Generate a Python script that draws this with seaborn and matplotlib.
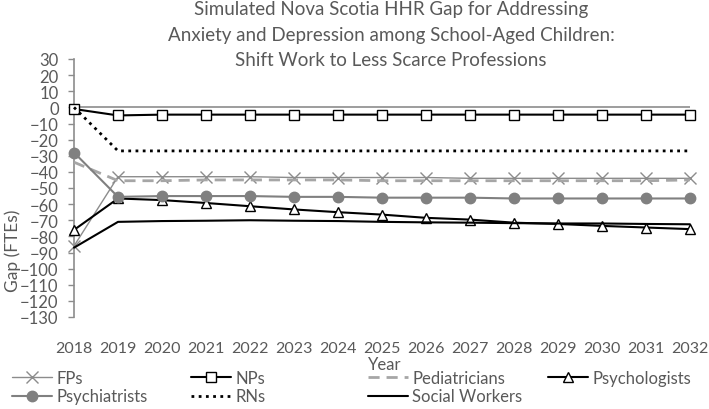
import pandas as pd
import matplotlib.pyplot as plt
import seaborn as sns

# Data
years = list(range(2018, 2033))
fps = [-86, -43, -43, -43, -43, -43.5, -43.5, -43.5, -43.5, -44, -44, -44, -44, -44, -44]
nps = [-1, -5, -4.5, -4.5, -4.5, -4.5, -4.5, -4.5, -4.5, -4.5, -4.5, -4.5, -4.5, -4.5, -4.5]
pediatricians = [-34, -45.5, -45.5, -45, -45, -45, -45, -45.5, -45.5, -45.5, -45.5, -45.5, -45.5, -45.5, -45]
psychologists = [-76, -56.5, -57.5, -59.3, -61.3, -63.3, -65, -66.5, -68.5, -69.6, -71.5, -72.3, -73.5, -74.5, -75.5]
psychiatrists = [-28, -55.5, -55, -55, -55, -55.5, -55.5, -56, -56, -56, -56.5, -56.5, -56.5, -56.5, -56.5]
rns = [0, -27, -27, -27, -27, -27, -27, -27, -27, -27, -27, -27, -27, -27, -27]
social_workers = [-87, -71, -70.5, -70.3, -70, -70.3, -70.5, -71, -71.3, -71.5, -71.8, -72, -72, -72.3, -72.5]

series = {
    "FPs": fps,
    "NPs": nps,
    "Pediatricians": pediatricians,
    "Psychologists": psychologists,
    "Psychiatrists": psychiatrists,
    "RNs": rns,
    "Social Workers": social_workers,
}
df = pd.DataFrame({"Year": years, **series})
long_df = df.melt(id_vars="Year", var_name="Profession", value_name="Gap")

# line styles per profession
styles = {
    "FPs": dict(color="#8c8c8c", ls="-", lw=1.0, marker="x", ms=8, mfc="#8c8c8c", mec="#8c8c8c"),
    "NPs": dict(color="#000000", ls="-", lw=1.5, marker="s", ms=7, mfc="white", mec="#000000"),
    "Pediatricians": dict(color="#a6a6a6", ls=(0, (4, 2.5)), lw=2.0, marker=None, ms=0, mfc="none", mec="none"),
    "Psychologists": dict(color="#000000", ls="-", lw=1.5, marker="^", ms=7.5, mfc="white", mec="#000000"),
    "Psychiatrists": dict(color="#808080", ls="-", lw=1.5, marker="o", ms=7.5, mfc="#808080", mec="#808080"),
    "RNs": dict(color="#000000", ls=(0, (1, 1.6)), lw=2.0, marker=None, ms=0, mfc="none", mec="none"),
    "Social Workers": dict(color="#000000", ls="-", lw=1.5, marker=None, ms=0, mfc="none", mec="none"),
}

sns.set_style("white")
plt.rcParams["font.family"] = ["Lato", "DejaVu Sans"]
txt = "#595959"

W, H = 709, 410
fig = plt.figure(figsize=(W / 100, H / 100), dpi=100)
ax = fig.add_axes([74 / W, 1 - 318 / H, (690 - 74) / W, (318 - 60) / H])

ax.axhline(0, color="#8c8c8c", lw=1.2, zorder=1)

for name, st in styles.items():
    sub = long_df[long_df["Profession"] == name]
    sns.lineplot(data=sub, x="Year", y="Gap", ax=ax, label=name, color=st["color"],
                 linestyle=st["ls"], linewidth=st["lw"], marker=st["marker"],
                 markersize=st["ms"], markerfacecolor=st["mfc"], markeredgecolor=st["mec"],
                 markeredgewidth=1.0, zorder=3, clip_on=False)

ax.set_xlim(2018, 2032)
ax.set_ylim(-130, 30)
ax.set_yticks(range(-130, 31, 10))
ax.set_xticks(years)
ax.tick_params(axis="y", left=True, length=4, width=1, color="#8c8c8c", pad=7,
               labelsize=12, labelcolor=txt)
ax.tick_params(axis="x", bottom=False, pad=14, labelsize=11.5, labelcolor=txt)
for s in ["top", "right", "bottom"]:
    ax.spines[s].set_visible(False)
ax.spines["left"].set_color("#8c8c8c")
ax.spines["left"].set_linewidth(1.2)
ax.set_xlabel("")
ax.set_ylabel("")

# title, axis titles
title_lines = ["Simulated Nova Scotia HHR Gap for Addressing",
               "Anxiety and Depression among School-Aged Children:",
               "Shift Work to Less Scarce Professions"]
for i, line in enumerate(title_lines):
    fig.text(391 / W, 1 - (10 + 25 * i) / H, line, ha="center", va="center",
             fontsize=13.5, color=txt)
fig.text(13 / W, 1 - 251 / H, "Gap (FTEs)", rotation=90, ha="center", va="center",
         fontsize=12.5, color=txt)
fig.text(385 / W, 1 - 365 / H, "Year", ha="center", va="center", fontsize=12, color=txt)

# legend: four equal-width columns, filled row by row
handles, labels = ax.get_legend_handles_labels()
ax.get_legend().remove()
lookup = dict(zip(labels, handles))
columns = [["FPs", "Psychiatrists"], ["NPs", "RNs"], ["Pediatricians", "Social Workers"], ["Psychologists"]]
col_x = [12, 191, 368, 548]
for names, x in zip(columns, col_x):
    fig.legend([lookup[n] for n in names], names, loc="upper left",
               bbox_to_anchor=(x / W, 1 - 371 / H), frameon=False, fontsize=12,
               labelcolor=txt, handlelength=2.4, handletextpad=0.25,
               borderaxespad=0, borderpad=0, labelspacing=0.15)

plt.savefig("out.png", dpi=100)
